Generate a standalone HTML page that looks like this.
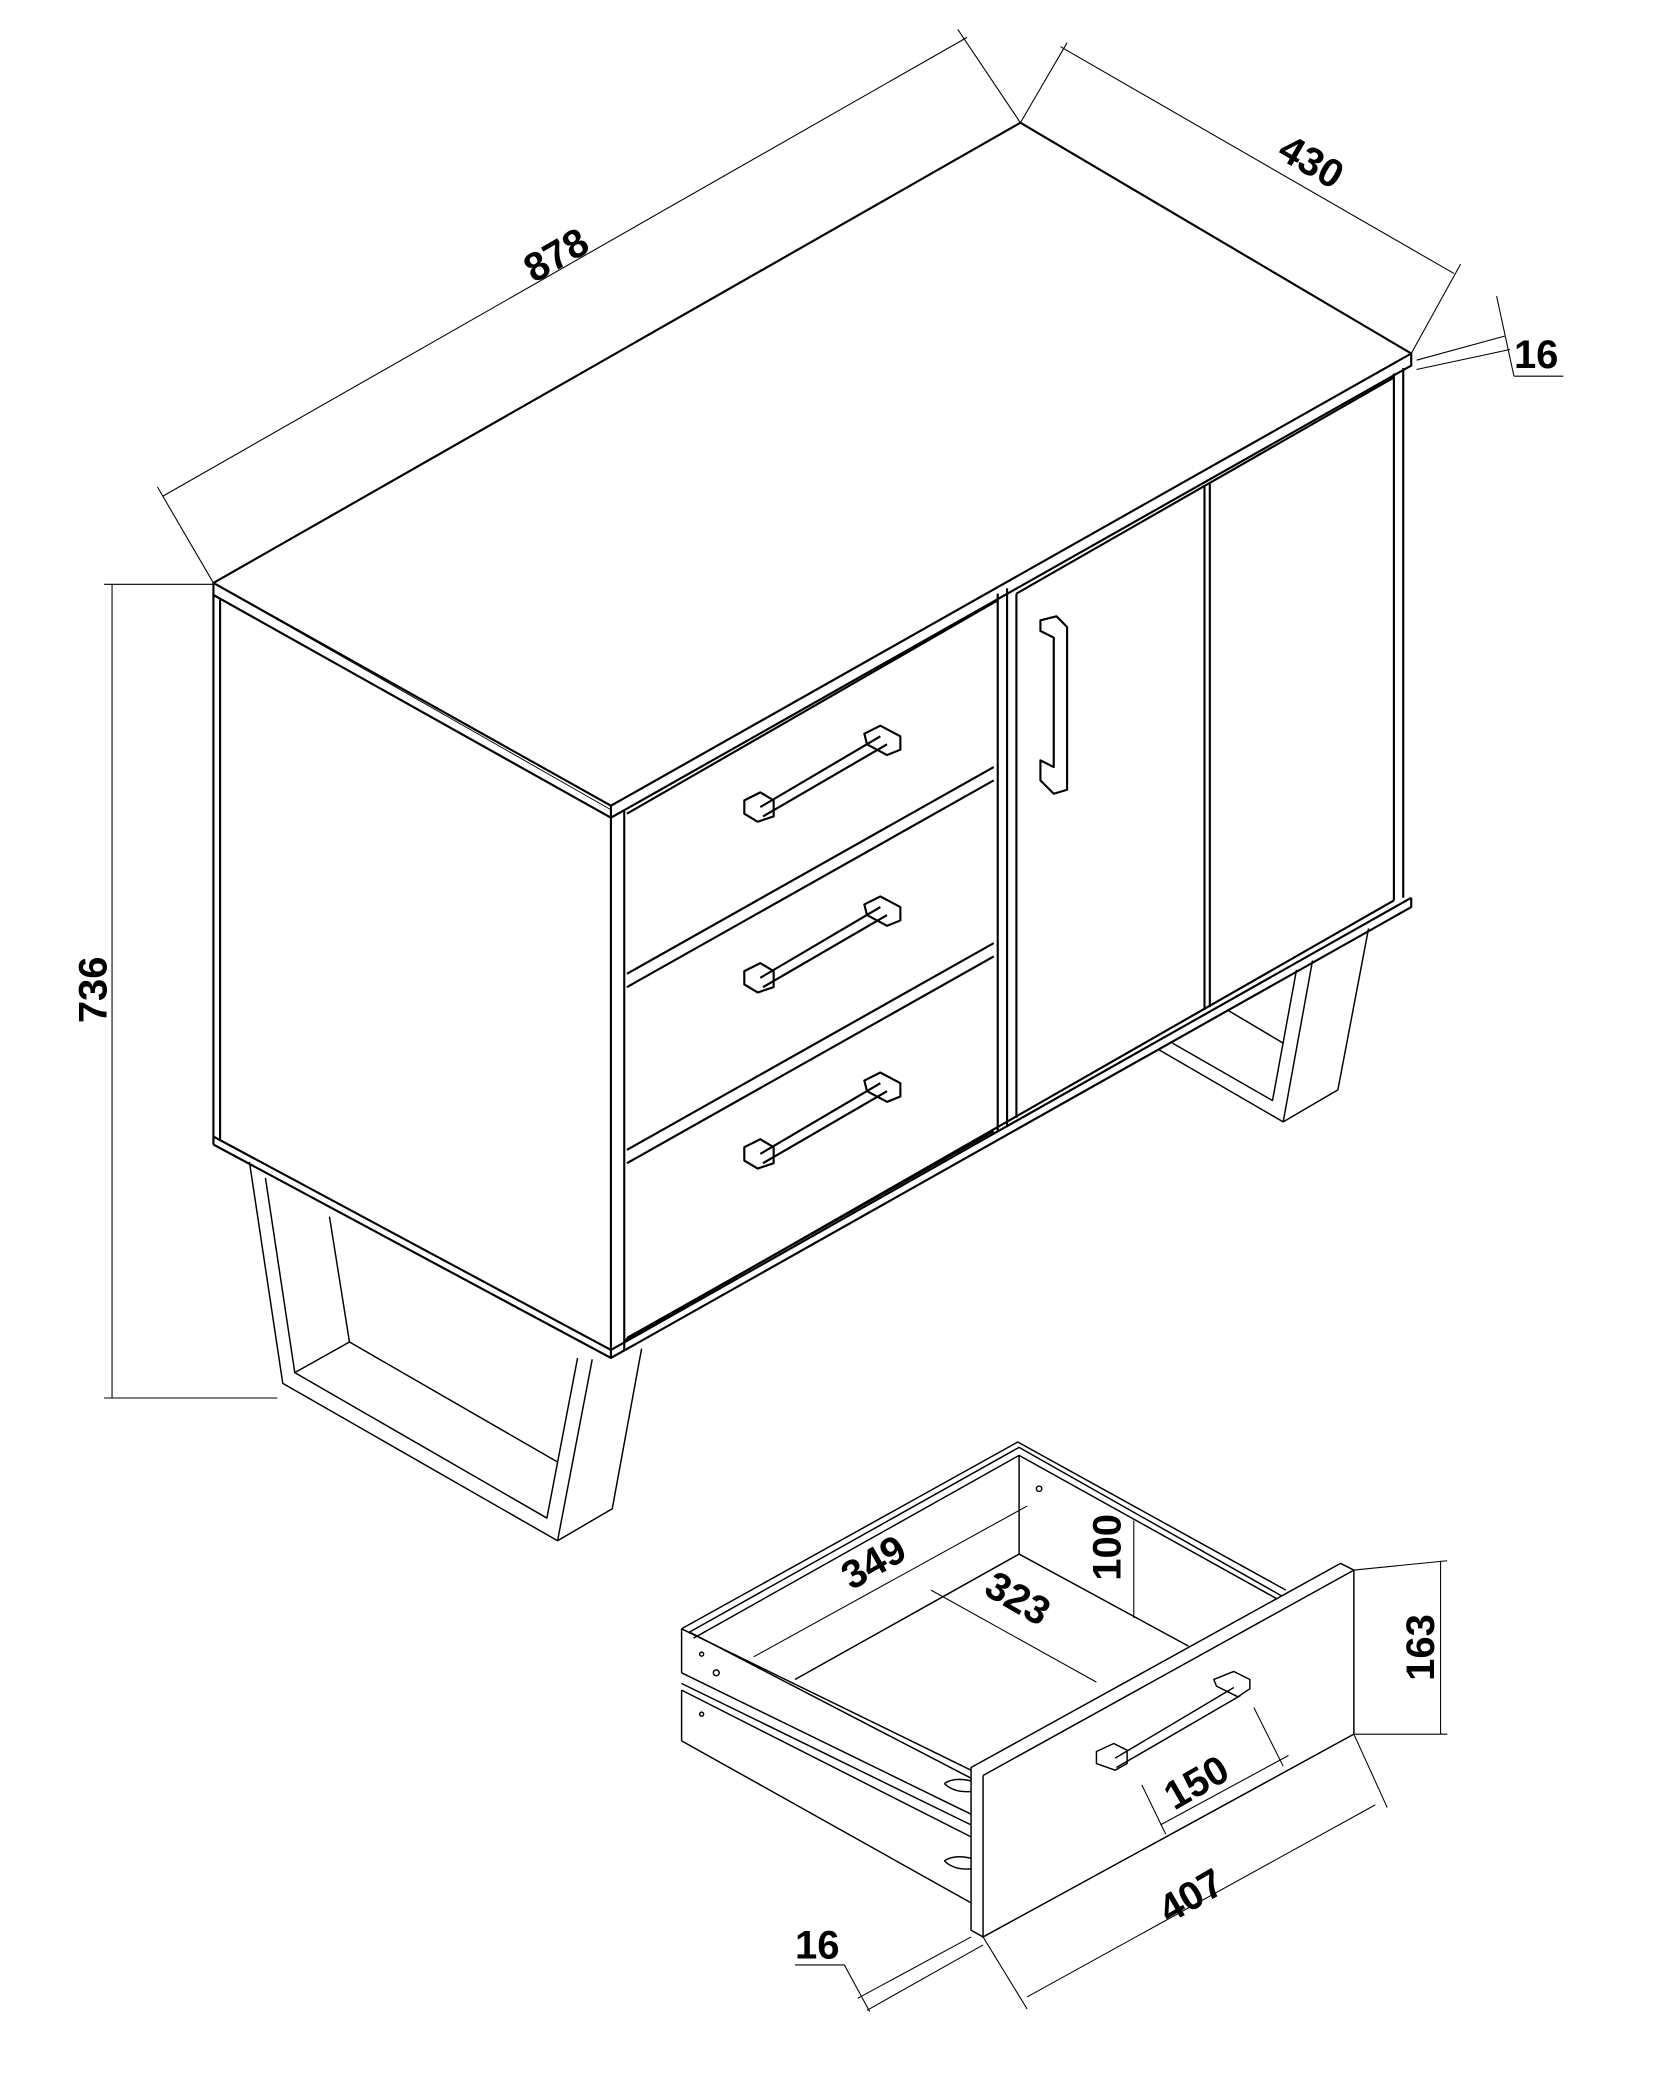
<!DOCTYPE html>
<html><head><meta charset="utf-8"><style>
html,body{margin:0;padding:0;background:#fff;}
svg{display:block;}
text{font-family:"Liberation Sans",Arial,sans-serif;font-weight:bold;font-size:30px;fill:#000;}
</style></head><body>
<svg width="1654" height="2081" viewBox="0 0 1240 1560" preserveAspectRatio="none" xmlns="http://www.w3.org/2000/svg">
<g fill="none" stroke="#000" stroke-width="1.6" stroke-linejoin="round">
<polygon points="160,437 765,92 1058,265 458,604" fill="#fff"/>
<polyline points="160,437 160,446 458,613 1058,274 1058,265"/>
<line x1="458" y1="604" x2="458" y2="613"/>
<line x1="165" y1="440" x2="458" y2="607" stroke-width="0.7"/>
<line x1="160" y1="446" x2="160" y2="858"/>
<line x1="165" y1="449" x2="165" y2="855"/>
<line x1="458" y1="613" x2="458" y2="1018"/>
<line x1="468" y1="607" x2="468" y2="1012"/>
<polyline points="160,858 458,1018 1058,680 1058,673"/>
<polyline points="160,852 458,1012 1058,673"/>
<line x1="468" y1="1005" x2="1045" y2="675"/>
<line x1="1045" y1="280" x2="1045" y2="675"/>
<line x1="1052" y1="276" x2="1052" y2="673"/>
<line x1="748" y1="445" x2="748" y2="848"/>
<line x1="755" y1="441" x2="755" y2="845"/>
<line x1="470" y1="610" x2="748" y2="450"/>
<line x1="470" y1="730" x2="745" y2="575"/>
<line x1="470" y1="740" x2="745" y2="585"/>
<line x1="470" y1="862" x2="745" y2="707"/>
<line x1="470" y1="872" x2="745" y2="717"/>
<line x1="470" y1="1003" x2="745" y2="848"/>
<line x1="762" y1="445" x2="762" y2="838"/>
<line x1="762" y1="445" x2="1045" y2="283"/>
<line x1="903" y1="365" x2="903" y2="757"/>
<line x1="907" y1="362" x2="907" y2="755"/>
<g>
<path d="M558,600 L570,594 L580,600 L580,612 L568,616 L558,610 Z M570,605 L660,552 M572,612 L665,558 M648,550 L660,544 L675,552 L675,562 L665,566 L650,558 Z"/>
<path d="M558,728 L570,722 L580,728 L580,740 L568,744 L558,738 Z M570,733 L660,680 M572,740 L665,686 M648,678 L660,672 L675,680 L675,690 L665,694 L650,686 Z"/>
<path d="M558,860 L570,854 L580,860 L580,872 L568,876 L558,870 Z M570,865 L660,812 M572,872 L665,818 M648,810 L660,804 L675,812 L675,822 L665,826 L650,818 Z"/>
</g>
<path d="M780,465 L792,462 L800,470 L800,592 L790,595 L780,585 L780,570 L790,575 L790,478 L780,473 Z M790,478 L790,575"/>
</g>
<g fill="none" stroke="#000" stroke-width="1.1" stroke-linejoin="round">
<polyline points="187,871 212,1037 418,1155 459,1131 481,1011"/>
<line x1="444" y1="1019" x2="418" y2="1155"/>
<polyline points="199,883 221,1029 410,1138 433,1018"/>
<polyline points="247,912 262,1006 418,1096"/>
<line x1="221" y1="1029" x2="262" y2="1006"/>
<polyline points="1026,696 1003,817 962,841 869,787"/>
<line x1="984" y1="720" x2="962" y2="841"/>
<polyline points="972,727 954,825 879,782"/>
<line x1="920" y1="757" x2="962" y2="782"/>
<polyline points="511,1221 763,1081 964,1192"/>
<polyline points="516,1224 764,1085 962,1197"/>
<polyline points="520,1228 764,1091 960,1200"/>
<line x1="764" y1="1091" x2="764" y2="1165"/>
<polyline points="596,1259 764,1165 891,1234"/>
<polyline points="511,1221 728,1327"/>
<line x1="518" y1="1224" x2="728" y2="1333"/>
<line x1="511" y1="1221" x2="511" y2="1254"/>
<line x1="511" y1="1267" x2="511" y2="1305"/>
<line x1="511" y1="1254" x2="728" y2="1360"/>
<line x1="511" y1="1262" x2="728" y2="1368"/>
<line x1="511" y1="1267" x2="728" y2="1377"/>
<line x1="511" y1="1305" x2="729" y2="1427"/>
<circle cx="526" cy="1240" r="1.5"/>
<circle cx="537" cy="1254" r="2.2"/>
<circle cx="526" cy="1285" r="1.5"/>
<circle cx="779" cy="1116" r="2"/>
<path d="M708,1337 Q715,1332 728,1335 M708,1337 Q715,1344 728,1343 M708,1395 Q715,1390 728,1393 M708,1395 Q715,1402 728,1401"/>
<polygon points="728,1325 1005,1172 1015,1177 1015,1300 737,1452 728,1447" fill="#fff"/>
<line x1="737" y1="1331" x2="737" y2="1452"/>
<line x1="737" y1="1331" x2="1015" y2="1177"/>
<path d="M822,1313 L835,1307 L845,1312 L845,1322 L836,1327 L822,1322 Z M836,1318 L925,1265 M837,1325 L930,1271 M910,1259 L925,1253 L937,1259 L937,1266 L928,1272 L912,1264 Z"/>
</g>
<g fill="none" stroke="#000" stroke-width="0.8">
<line x1="122" y1="372" x2="725" y2="28"/>
<line x1="118" y1="365" x2="160" y2="437"/>
<line x1="718" y1="22" x2="765" y2="92"/>
<line x1="795" y1="35" x2="1090" y2="205"/>
<line x1="765" y1="92" x2="800" y2="32"/>
<line x1="1058" y1="265" x2="1095" y2="198"/>
<line x1="1062" y1="270" x2="1128" y2="252"/>
<line x1="1062" y1="277" x2="1132" y2="262"/>
<line x1="1122" y1="222" x2="1135" y2="282"/>
<line x1="1135" y1="282" x2="1172" y2="282"/>
<line x1="84" y1="438" x2="84" y2="1048"/>
<line x1="78" y1="438" x2="160" y2="438"/>
<line x1="78" y1="1048" x2="208" y2="1048"/>
<line x1="565" y1="1242" x2="770" y2="1129"/>
<line x1="698" y1="1192" x2="822" y2="1261"/>
<line x1="850" y1="1140" x2="850" y2="1213"/>
<line x1="1015" y1="1177" x2="1085" y2="1170"/>
<line x1="1015" y1="1300" x2="1085" y2="1300"/>
<line x1="1080" y1="1170" x2="1080" y2="1300"/>
<line x1="870" y1="1368" x2="966" y2="1316"/>
<line x1="856" y1="1338" x2="874" y2="1375"/>
<line x1="940" y1="1280" x2="962" y2="1324"/>
<line x1="770" y1="1497" x2="1031" y2="1353"/>
<line x1="1015" y1="1300" x2="1040" y2="1355"/>
<line x1="737" y1="1452" x2="770" y2="1506"/>
<line x1="643" y1="1498" x2="728" y2="1452"/>
<line x1="650" y1="1507" x2="737" y2="1458"/>
<polyline points="596,1473 633,1473 652,1508"/>
</g>
<text transform="translate(422,200) rotate(-30)" text-anchor="middle">878</text>
<text transform="translate(978,130) rotate(30)" text-anchor="middle">430</text>
<text x="1135" y="276">16</text>
<text transform="translate(80,742) rotate(-90)" text-anchor="middle">736</text>
<text transform="translate(660,1180) rotate(-30)" text-anchor="middle">349</text>
<text transform="translate(758,1207) rotate(30)" text-anchor="middle">323</text>
<text transform="translate(840,1160) rotate(-90)" text-anchor="middle">100</text>
<text transform="translate(1075,1235) rotate(-90)" text-anchor="middle">163</text>
<text transform="translate(902,1345) rotate(-30)" text-anchor="middle">150</text>
<text transform="translate(898,1430) rotate(-30)" text-anchor="middle">407</text>
<text x="596" y="1468">16</text>
</svg>
</body></html>
